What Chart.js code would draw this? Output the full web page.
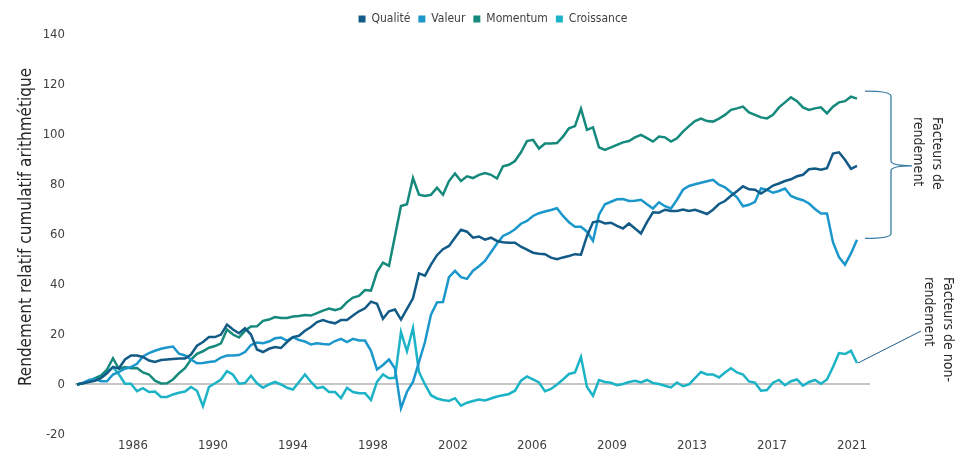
<!DOCTYPE html>
<html>
<head>
<meta charset="utf-8">
<script src="https://cdn.jsdelivr.net/npm/chart.js@4.4.1/dist/chart.umd.min.js"></script>
<style>
html,body{margin:0;padding:0;background:#ffffff;}
#wrap{width:968px;height:456px;position:relative;}
</style>
</head>
<body>
<div id="wrap"><canvas id="c" width="968" height="456"></canvas></div>
<script>
// ---------- DATA ----------
const seriesNames = ['Qualité', 'Valeur', 'Momentum', 'Croissance'];
const xTickLabels = ['1986', '1990', '1994', '1998', '2002', '2006', '2009', '2013', '2017', '2021'];
const xTickPos = [9.33, 22.67, 36, 49.33, 62.67, 75.83, 89.17, 102.5, 115.83, 129.17];
const yTicks = [-20, 0, 20, 40, 60, 80, 100, 120, 140];
const yTitle = 'Rendement relatif cumulatif arithmétique';
const noteTop = ['Facteurs de', 'rendement'];
const noteBottom = ['Facteurs de non-', 'rendement'];

const qualite = [
  0, 0.5, 1, 1.5, 2.5, 4.5, 7, 6.5, 10, 11.6,
  11.6, 11, 9.6, 9, 9.8, 10, 10.2, 10.4, 10.4, 12,
  15.5, 17, 19, 19, 20, 24, 22, 20.5, 22.5, 20,
  14, 13, 14.3, 15, 14.6, 17, 19, 19.5, 21.5, 23,
  25, 25.8, 25, 24.5, 25.8, 25.8, 27.6, 29.3, 30.5, 33.2,
  32.3, 26.3, 29.3, 30, 26, 30.3, 34.5, 44.5, 43.6, 48,
  51.8, 54.2, 55.5, 58.8, 62, 61.2, 58.8, 59.3, 58, 58.8,
  57.5, 57, 56.8, 56.8, 55.2, 54, 52.8, 52.4, 52.2, 50.8,
  50.2, 50.9, 51.5, 52.2, 52, 59.5, 65, 65.5, 64.5, 64.8,
  63.5, 62.5, 64.5, 62.5, 60.5, 65, 69, 68.8, 70, 69.5,
  69.5, 70.1, 69.5, 70, 69.2, 68.3, 70, 72.3, 73.5, 75.6,
  77.4, 79.4, 78.2, 78, 76.5, 78, 79.7, 80.5, 81.5, 82.2,
  83.4, 84, 86.2, 86.5, 86, 86.6, 92.5, 93, 90, 86.4,
  87.6
];
const valeur = [
  0, 0.6, 1.8, 2.2, 1.3, 1.3, 4, 5, 6.3, 7,
  8.3, 11.2, 12.6, 13.5, 14.3, 14.8, 15.2, 12.3, 11.6, 10,
  8.5, 8.6, 9, 9.3, 10.8, 11.6, 11.6, 11.8, 13, 15.8,
  16.8, 16.5, 17.2, 18.5, 18.8, 17.6, 19, 17.8, 17.2, 16,
  16.5, 16.2, 16, 17.4, 18.3, 17, 18.3, 17.6, 17.6, 13.5,
  6, 7.8, 10, 6.4, -9.5, -2.9, 1, 9, 17, 28,
  32.9, 33, 43, 45.5, 43, 42.3, 45.6, 47.4, 49.5, 53,
  56.5, 59.5, 60.6, 62.2, 64.4, 65.5, 67.5, 68.6, 69.3, 69.9,
  70.6, 67.5, 65, 63.2, 63.2, 61.2, 57.5, 68, 72.2, 73.2,
  74.2, 74.3, 73.5, 73.6, 74, 72.2, 70.5, 73, 71.4, 70.5,
  74, 78, 79.5, 80.2, 80.8, 81.4, 82, 80, 79, 77,
  75, 71.4, 72, 73.2, 78.5, 78, 76.8, 77.5, 78.5, 75.5,
  74.5, 73.8, 72.5, 70.3, 68.5, 68.5, 57, 51, 48, 52.5,
  58
];
const momentum = [
  0, 0.5, 1.3, 2.5, 3.5, 6, 10.5, 6.2, 7, 6.5,
  6.6, 4.8, 4, 1.5, 0.4, 0.5, 2, 4.5, 6.5, 10,
  12.3, 13.3, 14.7, 15.4, 16.5, 22, 20, 18.8, 21.5, 23.2,
  23.3, 25.5, 26, 27, 26.6, 26.6, 27.2, 27.4, 27.8, 27.6,
  28.6, 29.6, 30.4, 29.8, 30.5, 33, 34.8, 35.5, 37.8, 37.6,
  45, 48.8, 47.5, 59.5, 71.5, 72.2, 82.7, 76, 75.5, 76,
  78.8, 76, 81.5, 84.5, 81.5, 83.4, 82.7, 84, 84.7, 84,
  82.5, 87.4, 88, 89.5, 93, 97.5, 98, 94.5, 96.5, 96.5,
  96.7, 99.3, 102.6, 103.5, 110.5, 102, 103, 95, 94, 95,
  96, 97, 97.5, 99, 100, 98.7, 97.3, 99.3, 99, 97.3,
  98.6, 101.3, 103.5, 105.5, 106.5, 105.5, 105.3, 106.5, 108, 110,
  110.6, 111.3, 109, 108, 107, 106.6, 108, 111, 113, 115,
  113.5, 111, 110, 110.6, 111, 108.6, 111.3, 113, 113.5, 115.3,
  114.5
];
const croissance = [
  0, 0.6, 1.2, 2.3, 3.6, 5, 7, 4, 0.3, 0.3,
  -2.7, -1.5, -3, -2.8, -5, -5, -4, -3.3, -2.8, -1,
  -2.5, -8.7, -1, 0.5, 2, 5.3, 3.9, 0.3, 0.6, 3.5,
  0.5, -1.3, 0, 1, 0, -1.3, -2, 1, 4, 1,
  -1.5, -1, -3, -3, -5.5, -1.3, -3, -3.5, -3.5, -6.2,
  1, 4, 2.5, 2.7, 21, 13.3, 22.6, 5, 0, -4.3,
  -5.6, -6.2, -6.6, -5.5, -8.5, -7.3, -6.6, -6, -6.4, -5.6,
  -4.8, -4.3, -3.8, -2.5, 1.5, 3.2, 2, 0.8, -2.7, -1.8,
  0, 2, 4.2, 4.8, 11, -1, -4.5, 1.8, 1, 0.7,
  -0.3, 0.2, 1, 1.5, 0.8, 1.8, 0.6, 0.2, -0.5, -1.2,
  0.8, -0.7, 0, 2.5, 5, 4, 4, 2.8, 4.8, 6.5,
  4.8, 4, 1.2, 0.7, -2.5, -2.2, 0.7, 1.8, -0.3, 1.3,
  2, -0.5, 1, 1.8, 0.3, 2, 7, 12.6, 12.2, 13.5,
  8.6
];
// period index (one observation per step)
const periods = qualite.map((_, i) => i);

// ---------- STYLE ----------
const FONT = '"DejaVu Sans Condensed", "DejaVu Sans", sans-serif';
const colors = ['#135b87', '#1b97cb', '#15897c', '#1db3c7'];
const TEXT = '#404040';

const allSeries = [qualite, valeur, momentum, croissance];
const datasets = allSeries.map((vals, k) => ({
  label: seriesNames[k],
  data: vals.map((v, i) => ({ x: periods[i], y: v })),
  borderColor: colors[k],
  backgroundColor: colors[k],
  borderWidth: 2.5,
  pointRadius: 0,
  tension: 0,
  fill: false
}));

const annotations = {
  id: 'annotations',
  afterDraw(chart) {
    const ctx = chart.ctx;
    const xs = chart.scales.x, ys = chart.scales.y;
    // y-axis title
    ctx.save();
    ctx.fillStyle = '#262626';
    ctx.font = '17px ' + FONT;
    ctx.translate(27, 227);
    ctx.rotate(-Math.PI / 2);
    ctx.textAlign = 'center';
    ctx.textBaseline = 'middle';
    ctx.fillText(yTitle, 0, 0);
    ctx.restore();

    // bracket around return factors
    const last = periods.length - 1;
    const yTop = ys.getPixelForValue(momentum[last] + 3);
    const yBot = ys.getPixelForValue(valeur[last] + 0.5);
    const yMid = (yTop + yBot) / 2 + 1;
    const x0 = 865, x1 = 891, xTip = 912;
    ctx.save();
    ctx.strokeStyle = '#3a7ba3';
    ctx.lineWidth = 1.3;
    ctx.beginPath();
    ctx.moveTo(x0, yTop);
    ctx.quadraticCurveTo(x1, yTop, x1, yTop + 5);
    ctx.lineTo(x1, yMid - 5);
    ctx.quadraticCurveTo(x1, yMid, xTip, yMid);
    ctx.quadraticCurveTo(x1, yMid, x1, yMid + 5);
    ctx.lineTo(x1, yBot - 5);
    ctx.quadraticCurveTo(x1, yBot, x0, yBot);
    ctx.stroke();
    // leader line to non-return factor
    const px = xs.getPixelForValue(periods[last]);
    const py = ys.getPixelForValue(croissance[last]);
    ctx.strokeStyle = '#1f5f8b';
    ctx.lineWidth = 1;
    ctx.beginPath();
    ctx.moveTo(px + 1, py);
    ctx.lineTo(921, 331);
    ctx.stroke();
    ctx.restore();

    // rotated notes
    const drawNote = (lines, xFirst, yStart) => {
      ctx.save();
      ctx.fillStyle = '#262626';
      ctx.font = '14px ' + FONT;
      ctx.textAlign = 'left';
      ctx.textBaseline = 'middle';
      lines.forEach((t, i) => {
        ctx.save();
        ctx.translate(xFirst - i * 19.5, yStart);
        ctx.rotate(Math.PI / 2);
        ctx.fillText(t, 0, 0);
        ctx.restore();
      });
      ctx.restore();
    };
    drawNote(noteTop, 937, 117);
    drawNote(noteBottom, 948, 277);
  }
};

new Chart(document.getElementById('c'), {
  type: 'line',
  data: { datasets },
  options: {
    responsive: false,
    animation: false,
    devicePixelRatio: 1,
    layout: { padding: { left: 18, right: 0, top: 0, bottom: 0 } },
    plugins: {
      legend: {
        position: 'top',
        align: 'center',
        labels: {
          boxWidth: 7,
          boxHeight: 7,
          padding: 8,
          color: TEXT,
          font: { size: 12, family: FONT },
          generateLabels(chart) {
            const items = Chart.defaults.plugins.legend.labels.generateLabels(chart);
            items.forEach(it => { it.lineWidth = 0; it.fillStyle = it.strokeStyle; });
            return items;
          }
        }
      },
      tooltip: { enabled: false }
    },
    scales: {
      x: {
        type: 'linear',
        min: -0.33,
        max: 132.17,
        grid: { display: false, drawTicks: false },
        border: { display: false },
        afterBuildTicks(scale) {
          scale.ticks = xTickPos.map(v => ({ value: v }));
        },
        ticks: {
          autoSkip: false,
          maxRotation: 0,
          padding: 3,
          color: TEXT,
          font: { size: 13, family: FONT },
          callback(value, index) { return xTickLabels[index]; }
        }
      },
      y: {
        min: -20,
        max: 140,
        afterFit(scale) {
          scale.width = 57;
          scale.paddingTop = 35;
          scale.paddingBottom = 20;
        },
        afterBuildTicks(scale) {
          scale.ticks = yTicks.map(v => ({ value: v }));
        },
        grid: {
          drawTicks: false,
          lineWidth: 2,
          color: c => (c.tick && c.tick.value === 0 ? '#c6c6c6' : 'rgba(0,0,0,0)')
        },
        border: { display: false },
        ticks: {
          padding: 10,
          color: TEXT,
          font: { size: 13, family: FONT }
        }
      },
      yRight: {
        position: 'right',
        display: true,
        min: 0, max: 1,
        afterFit(scale) { scale.width = 98; },
        grid: { display: false, drawOnChartArea: false },
        border: { display: false },
        ticks: { display: false }
      }
    }
  },
  plugins: [annotations]
});
</script>
</body>
</html>
